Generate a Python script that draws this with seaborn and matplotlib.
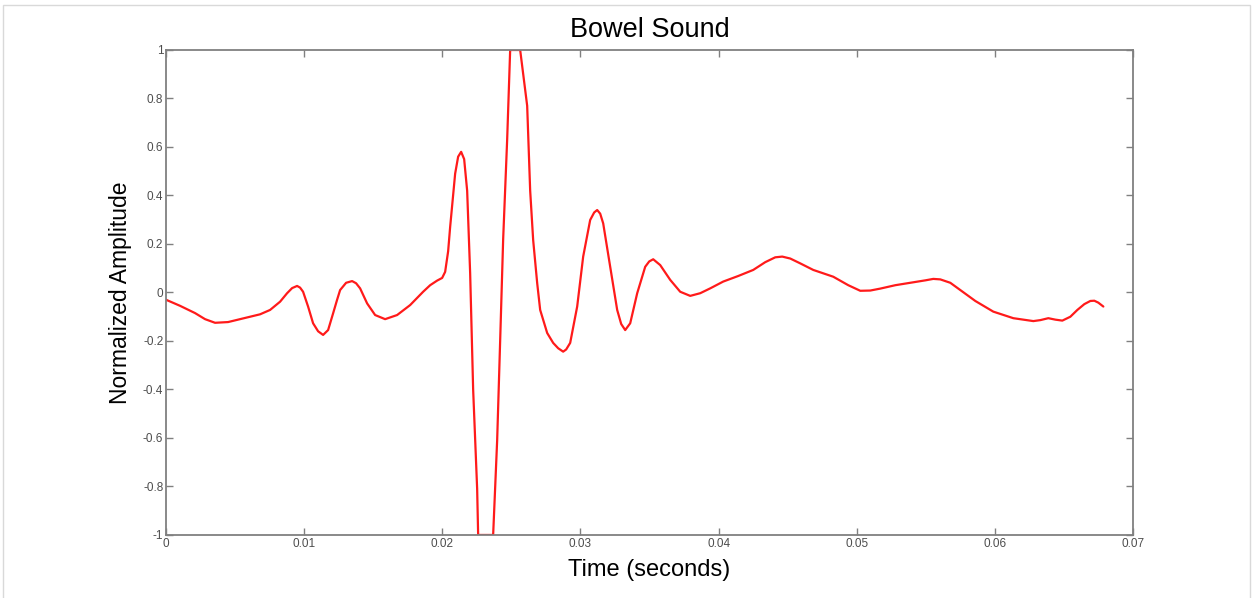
import pandas as pd
import seaborn as sns
import matplotlib.pyplot as plt
from matplotlib.patches import Rectangle

# Trace of the bowel sound (time in ms)
time_ms = [0.0, 1.014, 2.100, 2.824, 3.548, 4.490, 5.358, 6.083, 6.807, 7.531,
           8.255, 8.762, 9.124, 9.486, 9.703, 9.920, 10.282, 10.644, 11.007, 11.369,
           11.731, 12.093, 12.382, 12.600, 13.034, 13.469, 13.758, 14.048, 14.555, 15.134,
           15.858, 16.727, 17.668, 18.610, 19.117, 19.623, 19.986, 20.203, 20.420, 20.565,
           20.927, 21.144, 21.361, 21.579, 21.796, 22.013, 22.230, 22.520, 22.592, 23.678,
           23.968, 24.185, 24.403, 24.692, 24.910, 25.634, 26.141, 26.358, 26.575, 26.865,
           27.082, 27.589, 28.023, 28.385, 28.747, 28.964, 29.254, 29.761, 30.195, 30.702,
           30.992, 31.209, 31.427, 31.644, 32.151, 32.657, 32.947, 33.237, 33.599, 34.106,
           34.685, 34.975, 35.264, 35.771, 36.495, 37.219, 37.943, 38.668, 39.392, 40.333,
           41.419, 42.505, 43.374, 44.098, 44.605, 45.185, 45.909, 46.850, 48.298, 49.385,
           50.253, 50.977, 51.702, 52.788, 54.091, 54.960, 55.539, 56.046, 56.770, 57.495,
           58.581, 59.884, 61.332, 62.781, 63.288, 63.867, 64.374, 64.880, 65.460, 65.967,
           66.474, 66.908, 67.198, 67.488, 67.849]
amplitude = [-0.03, -0.055, -0.085, -0.11, -0.125, -0.122, -0.11, -0.1, -0.09, -0.072,
             -0.038, -0.003, 0.018, 0.027, 0.02, 0.003, -0.058, -0.127, -0.16, -0.175,
             -0.155, -0.086, -0.03, 0.01, 0.04, 0.047, 0.038, 0.017, -0.045, -0.093,
             -0.11, -0.093, -0.052, 0.003, 0.03, 0.049, 0.06, 0.085, 0.17, 0.27,
             0.49, 0.56, 0.58, 0.55, 0.42, 0.08, -0.40, -0.81, -1.0, -1.0,
             -0.61, -0.2, 0.22, 0.63, 1.0, 1.0, 0.77, 0.42, 0.216, 0.039,
             -0.072, -0.167, -0.208, -0.23, -0.244, -0.235, -0.208, -0.058, 0.148, 0.299,
             0.33, 0.34, 0.325, 0.285, 0.106, -0.072, -0.13, -0.155, -0.127, -0.003,
             0.106, 0.128, 0.137, 0.113, 0.052, 0.003, -0.014, -0.003, 0.017, 0.045,
             0.068, 0.093, 0.125, 0.145, 0.148, 0.14, 0.12, 0.093, 0.065, 0.03,
             0.007, 0.008, 0.016, 0.03, 0.042, 0.05, 0.056, 0.054, 0.04, 0.01,
             -0.035, -0.079, -0.106, -0.118, -0.114, -0.106, -0.112, -0.116, -0.1, -0.072,
             -0.048, -0.035, -0.034, -0.042, -0.058]

x_ticks = [0, 0.01, 0.02, 0.03, 0.04, 0.05, 0.06, 0.07]
x_tick_labels = ['0', '0.01', '0.02', '0.03', '0.04', '0.05', '0.06', '0.07']
y_ticks = [-1, -0.8, -0.6, -0.4, -0.2, 0, 0.2, 0.4, 0.6, 0.8, 1]
y_tick_labels = ['-1', '-0.8', '-0.6', '-0.4', '-0.2', '0', '0.2', '0.4', '0.6', '0.8', '1']

df = pd.DataFrame({'Time': [t / 1000 for t in time_ms], 'Amplitude': amplitude})

sns.set_style('white')
plt.rcParams['font.family'] = ['Liberation Sans', 'DejaVu Sans']

fig = plt.figure(figsize=(12.57, 5.98), dpi=100)
ax = fig.add_axes([0.1321, 0.1054, 0.7693, 0.811])

sns.lineplot(data=df, x='Time', y='Amplitude', color='#ff1a1a', linewidth=1.6,
             sort=False, ax=ax)

ax.set_xlim(0, 0.07)
ax.set_ylim(-1, 1)
ax.set_xticks(x_ticks)
ax.set_xticklabels(x_tick_labels)
ax.set_yticks(y_ticks)
ax.set_yticklabels(y_tick_labels)
ax.tick_params(axis='both', direction='in', length=5, width=1, color='#808080',
               labelsize=8.5, labelcolor='#4d4d4d', top=True, right=True,
               bottom=True, left=True, pad=2)
for side in ax.spines.values():
    side.set_color('#808080')
    side.set_linewidth(1.3)

ax.set_title('Bowel Sound', fontsize=19.5, color='black', pad=9)
ax.set_xlabel('Time (seconds)', fontsize=17, color='black', labelpad=7)
ax.set_ylabel('Normalized Amplitude', fontsize=16.5, color='black', labelpad=8)

# light frame around the whole picture
fig.patches.append(Rectangle((3 / 1257, -0.01), 1247 / 1257, 1 - 5 / 598 + 0.01,
                             transform=fig.transFigure, fill=False,
                             edgecolor='#d9d9d9', linewidth=1))

plt.savefig('out.png', dpi=100)
